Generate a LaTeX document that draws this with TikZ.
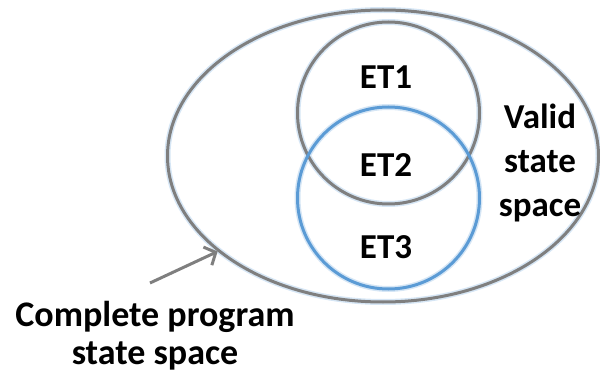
\documentclass[tikz,border=0pt]{standalone}
\usepackage{fontspec}
\setmainfont{Carlito}
\usetikzlibrary{shapes.geometric,arrows.meta}
\definecolor{ringgray}{HTML}{7F7F7F}
\definecolor{ringblue}{HTML}{5B9BD5}
\definecolor{halo}{HTML}{D6E6F5}
\tikzset{
  ring/.style={draw=ringgray, line width=3pt},
  bluering/.style={draw=ringblue, line width=3pt},
  halo/.style={draw=halo, line width=6pt},
  lbl/.style={font=\fontsize{35}{44}\selectfont\bfseries, align=center, inner sep=0pt},
  pointer/.style={draw=ringgray, line width=3pt, -{Straight Barb[length=9pt,width=20pt,line width=3pt]}}
}
\begin{document}
\begin{tikzpicture}[x=1pt,y=-1pt]
  \useasboundingbox (0,0) rectangle (600,382);
  % soft halo under the outlines
  \node[halo, ellipse, minimum width=431pt, minimum height=292pt] at (383,156) {};
  \node[halo, circle, minimum size=182pt] at (388.5,113) {};
  \node[halo, circle, minimum size=182pt] at (388.5,198) {};
  % outlines
  \node[ring, ellipse, minimum width=431pt, minimum height=292pt] (space) at (383,156) {};
  \node[ring, circle, minimum size=182pt] (et1c) at (388.5,113) {};
  \node[bluering, circle, minimum size=182pt] (et3c) at (388.5,198) {};
  % labels
  \node[lbl] (et1) at (386,77) {ET1};
  \node[lbl] (et2) at (386,165) {ET2};
  \node[lbl] (et3) at (386,247) {ET3};
  \node[lbl] (valid) at (540,163) {Valid\\state\\space};
  \node[lbl, font=\fontsize{36}{38}\selectfont\bfseries] (complete) at (155,336) {Complete program\\state space};
  % pointer to the outer ellipse
  \coordinate (tail) at (150,283);
  \draw[pointer] (tail) -- (space.210);
\end{tikzpicture}
\end{document}
